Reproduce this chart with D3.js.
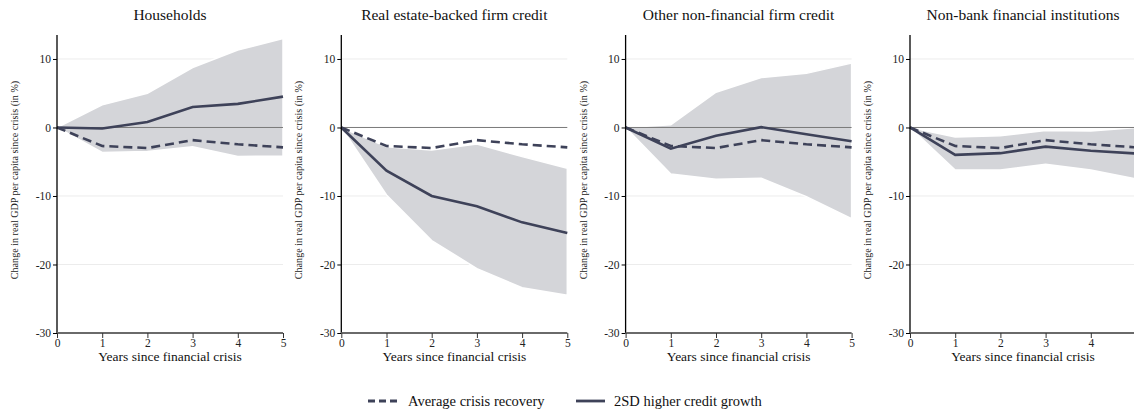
<!DOCTYPE html>
<html>
<head>
<meta charset="utf-8">
<script src="https://cdn.jsdelivr.net/npm/d3@7"></script>
<style>
  html, body { margin: 0; padding: 0; background: #fff; }
  svg { display: block; font-family: "Liberation Serif", "Times New Roman", serif; }
</style>
</head>
<body>
<svg id="chart" width="1134" height="413"></svg>
<script>
const years = [0, 1, 2, 3, 4, 5];
const panelTitles = ["Households", "Real estate-backed firm credit", "Other non-financial firm credit", "Non-bank financial institutions"];
const avgRecovery = [0, -2.7, -3.0, -1.85, -2.45, -2.9];
const highCredit = [
  [0, -0.15, 0.8, 3.0, 3.45, 4.5],
  [0, -6.3, -10.0, -11.5, -13.85, -15.4],
  [0, -3.1, -1.2, 0.05, -1.0, -2.0],
  [0, -4.0, -3.75, -2.8, -3.4, -3.8]
];
const bandUpper = [
  [0, 3.3, 5.0, 8.75, 11.3, 13.0],
  [0, -2.8, -3.3, -2.4, -4.25, -5.95],
  [0, 0.4, 5.15, 7.3, 7.9, 9.4],
  [0, -1.4, -1.2, -0.45, -0.5, 0.0]
];
const bandLower = [
  [0, -3.65, -3.5, -2.8, -4.25, -4.15],
  [0, -9.85, -16.5, -20.6, -23.4, -24.5],
  [0, -6.8, -7.55, -7.4, -10.1, -13.3],
  [0, -6.2, -6.2, -5.35, -6.2, -7.5]
];
const yTicks = [-30, -20, -10, 0, 10];
const yTickLabels = ["-30", "-20", "-10", "0", "10"];
const xTicks = [0, 1, 2, 3, 4, 5];
const xTickLabels = ["0", "1", "2", "3", "4", "5"];
const legendLabels = ["Average crisis recovery", "2SD higher credit growth"];

const lineColor = "#3e4259";
const bandColor = "#d4d5d9";

const svg = d3.select("#chart");
const plotTop = 35, plotBottom = 333, plotW = 226;
const panelLefts = [57, 341.3, 625.6, 910];
const W = 1134;

const y = d3.scaleLinear().domain([-30, 13.5]).range([plotBottom, plotTop]);

panelLefts.forEach((left, i) => {
  const x = d3.scaleLinear().domain([0, 5]).range([left, left + plotW]);
  const g = svg.append("g");

  // gridlines
  g.selectAll("line.grid").data([10, -10, -20]).enter().append("line")
    .attr("x1", left).attr("x2", left + plotW)
    .attr("y1", d => y(d)).attr("y2", d => y(d))
    .attr("stroke", "#ececec").attr("stroke-width", 1);

  // band
  const area = d3.area()
    .x((d, j) => x(years[j]))
    .y0((d, j) => y(bandLower[i][j]))
    .y1((d, j) => y(bandUpper[i][j]));
  g.append("path").datum(years).attr("d", area)
    .attr("fill", bandColor).attr("stroke", "#ffffff").attr("stroke-width", 1.5);

  // zero line
  g.append("line").attr("x1", left).attr("x2", left + plotW)
    .attr("y1", y(0)).attr("y2", y(0)).attr("stroke", "#7a7a7a").attr("stroke-width", 1);

  const line = d3.line().x((d, j) => x(years[j])).y(d => y(d));
  g.append("path").datum(avgRecovery).attr("d", line)
    .attr("fill", "none").attr("stroke", lineColor).attr("stroke-width", 2.6)
    .attr("stroke-dasharray", "9,5");
  g.append("path").datum(highCredit[i]).attr("d", line)
    .attr("fill", "none").attr("stroke", lineColor).attr("stroke-width", 2.6);

  // y axis
  const ya = g.append("g").attr("transform", `translate(${left},0)`)
    .call(d3.axisLeft(y).tickValues(yTicks).tickSize(4).tickPadding(2)
      .tickFormat(d => yTickLabels[yTicks.indexOf(d)]));
  ya.select(".domain").attr("d", `M0,${plotTop}V${plotBottom}`).attr("stroke", "#000").attr("stroke-width", 1.3);
  ya.selectAll(".tick line").attr("stroke", "#000");
  ya.selectAll(".tick text").attr("font-size", 11.5).attr("fill", "#222").attr("font-family", "Liberation Serif");

  // x axis (ticks whose label would fall outside the window are dropped)
  const visibleX = xTicks.filter(t => x(t) + 4 <= W);
  const xa = g.append("g").attr("transform", `translate(0,${plotBottom})`)
    .call(d3.axisBottom(x).tickValues(visibleX).tickSize(5).tickPadding(1)
      .tickFormat(d => xTickLabels[xTicks.indexOf(d)]));
  xa.select(".domain").attr("d", `M${left},0H${left + plotW}`).attr("stroke", "#6a6a6a").attr("stroke-width", 2);
  xa.selectAll(".tick line").attr("stroke", "#333");
  xa.selectAll(".tick text").attr("font-size", 11.5).attr("fill", "#222").attr("font-family", "Liberation Serif");

  // titles & labels
  g.append("text").attr("x", left + plotW / 2).attr("y", 20)
    .attr("text-anchor", "middle").attr("font-size", 15.5).attr("fill", "#111")
    .text(panelTitles[i]);
  g.append("text").attr("x", left + plotW / 2).attr("y", 361)
    .attr("text-anchor", "middle").attr("font-size", 13.5).attr("fill", "#111")
    .text("Years since financial crisis");
  g.append("text")
    .attr("transform", `translate(${left - 39},${180}) rotate(-90)`)
    .attr("text-anchor", "middle").attr("font-size", 10.1).attr("fill", "#222")
    .text("Change in real GDP per capita since crisis (in %)");
});

// legend
const leg = svg.append("g");
leg.append("line").attr("x1", 368).attr("x2", 398).attr("y1", 401).attr("y2", 401)
  .attr("stroke", lineColor).attr("stroke-width", 2.8).attr("stroke-dasharray", "7,4");
leg.append("text").attr("x", 408).attr("y", 406).attr("font-size", 14.5).attr("fill", "#111").text(legendLabels[0]);
leg.append("line").attr("x1", 576).attr("x2", 605).attr("y1", 401).attr("y2", 401)
  .attr("stroke", lineColor).attr("stroke-width", 2.8);
leg.append("text").attr("x", 614).attr("y", 406).attr("font-size", 14.5).attr("fill", "#111").text(legendLabels[1]);
</script>
</body>
</html>
